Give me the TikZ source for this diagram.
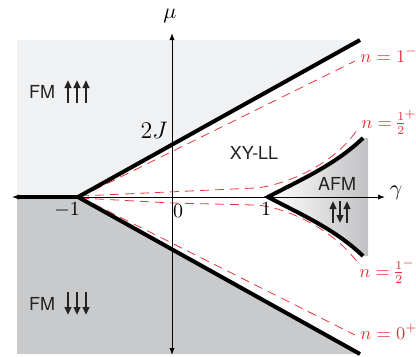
\documentclass[tikz,border=0pt]{standalone}
\usepackage{fontspec}
\newfontfamily\hv{TeX Gyre Heros}
\usetikzlibrary{arrows.meta}
\definecolor{fmup}{RGB}{240,241,243}
\definecolor{fmdn}{RGB}{201,202,204}
\definecolor{afmgray}{RGB}{192,193,195}
\definecolor{nred}{RGB}{232,52,62}
\definecolor{ink}{RGB}{35,35,35}
\newcommand{\halfsup}[1]{\nulldelimiterspace=0pt\relax\scriptspace=0pt\relax$n=\frac{1}{2}^{#1}$}
\begin{document}
\begin{tikzpicture}[x=0.5bp,y=-0.5bp,
  phase/.style={line width=2bp},
  axisline/.style={line width=0.5bp,{Latex[length=3.5bp,width=2.6bp]}-{Latex[length=3.5bp,width=2.6bp]}},
  ncurve/.style={nred,line width=0.4bp,dash pattern=on 4.5bp off 3bp},
  nlabel/.style={text=nred,anchor=base west,inner sep=0pt,font=\fontsize{9}{11}\selectfont},
  ticklab/.style={inner sep=0pt,font=\fontsize{10}{12}\selectfont},
  axlab/.style={inner sep=0pt,font=\fontsize{10.95}{13}\selectfont},
  phasetext/.style={inner sep=0pt,text=ink,font=\hv\fontsize{9}{11}\selectfont},
  spin/.style={ink,line width=1.2bp,-{Triangle[length=4bp,width=3.3bp]}}]
\useasboundingbox (0,0) rectangle (416,356);
% key points
\coordinate (m1) at (78,197);
\coordinate (p1) at (268,197);
\coordinate (lft) at (17,197);
\coordinate (upend) at (360,40);
\coordinate (dnend) at (360,354);
\coordinate (afmtop) at (363,138);
\coordinate (afmbot) at (363,256);
% regions
\fill[fmup] (17,40) -- (upend) -- (m1) -- (lft) -- cycle;
\fill[fmdn] (lft) -- (m1) -- (dnend) -- (17,354) -- cycle;
\shade[left color=white,right color=afmgray]
  (p1) .. controls (300,180) and (335,165) .. (afmtop) -- (368,138) -- (368,256)
  -- (afmbot) .. controls (335,229) and (300,214) .. (p1) -- cycle;
% dashed contours
\coordinate (c1) at (355,61);
\coordinate (c0) at (355,335);
\coordinate (chp) at (357,130);
\coordinate (chm) at (358,263);
\draw[ncurve] (80,197) -- (c1);
\draw[ncurve] (80,197) -- (c0);
\draw[ncurve] (80,196) -- (255,188) .. controls (275,187) and (330,170) .. (chp);
\draw[ncurve] (80,198) -- (172,203) -- (255,205) .. controls (280,206) and (330,225) .. (chm);
% phase boundaries
\draw[phase] (m1) -- (upend);
\draw[phase] (m1) -- (dnend);
\draw[phase] (lft) -- (m1);
\draw[phase] (afmtop) .. controls (335,165) and (300,180) .. (p1)
  .. controls (300,214) and (335,229) .. (afmbot);
% axes
\coordinate (xl) at (12,197);
\coordinate (xr) at (385,197);
\coordinate (yt) at (172,33);
\coordinate (yb) at (172,355);
\draw[axisline] (xl) -- (xr);
\draw[axisline] (yb) -- (yt);
% axis labels
\node[axlab] (mu) at (170,16) {$\mu$};
\node[axlab] (gam) at (396,193) {$\gamma$};
\node[ticklab] (tm1) at (67,210) {$-1$};
\node[ticklab] (t0) at (178,211) {$0$};
\node[ticklab] (t1) at (266,209) {$1$};
\node[inner sep=0pt,font=\fontsize{12}{14}\selectfont] (tj) at (154,130) {$2J$};
% contour labels
\node[nlabel] (l1) at (360,62) {$n=1^{-}$};
\node[nlabel] (lhp) at (361,128) {\halfsup{+}};
\node[nlabel] (lhm) at (359,277) {\halfsup{-}};
\node[nlabel] (l0) at (360,339) {$n=0^{+}$};
% phase names
\node[phasetext] (fmu) at (42,92) {FM};
\node[phasetext] (fmd) at (42,304) {FM};
\node[phasetext] (xy) at (254,153) {XY-LL};
\node[phasetext] (afm) at (337,184) {AFM};
% spins
\draw[spin] (68,103) -- (68,80);
\draw[spin] (77,103) -- (77,80);
\draw[spin] (86,103) -- (86,80);
\draw[spin] (68,292) -- (68,315);
\draw[spin] (77,292) -- (77,315);
\draw[spin] (86,292) -- (86,315);
\draw[spin] (333,223) -- (333,201);
\draw[spin] (340,201) -- (340,223);
\draw[spin] (347,223) -- (347,201);
\end{tikzpicture}
\end{document}
